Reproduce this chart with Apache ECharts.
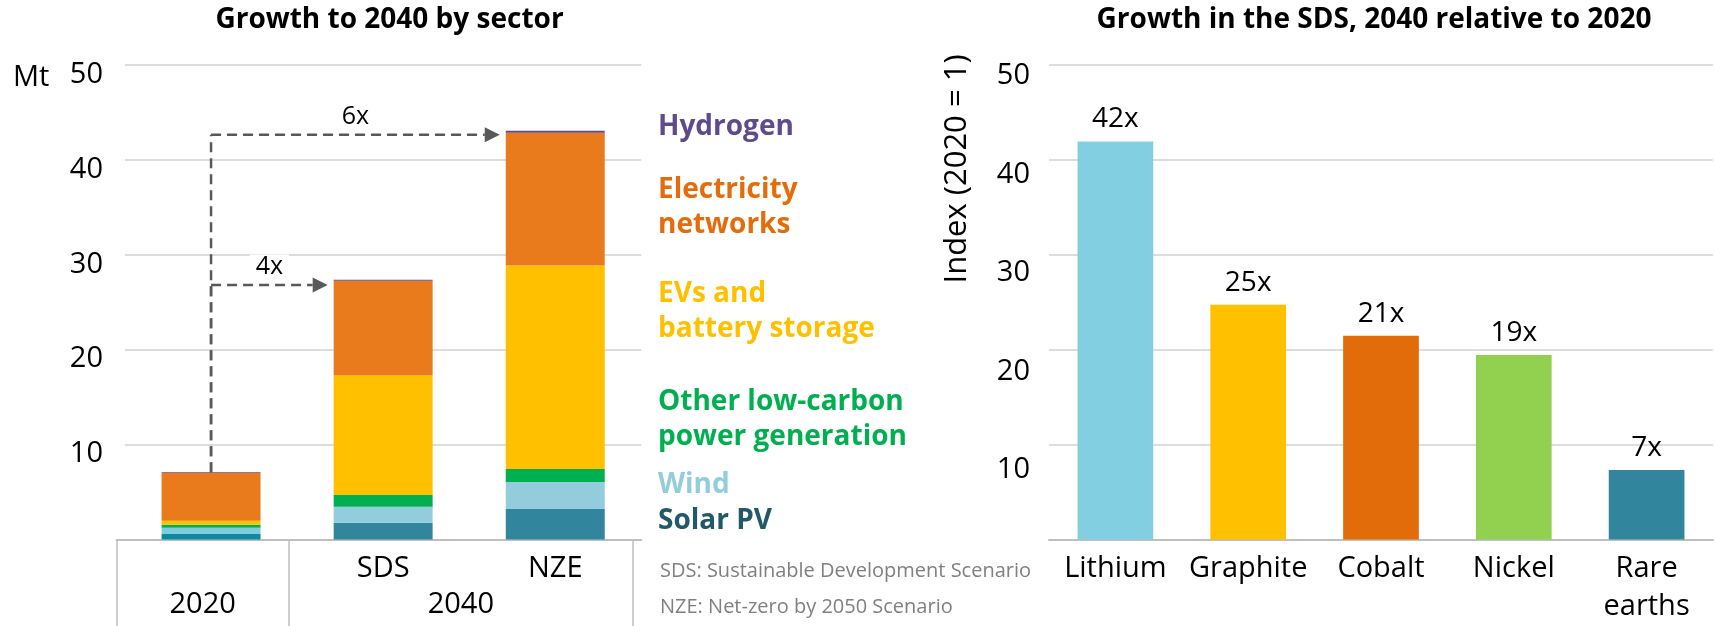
<!DOCTYPE html>
<html>
<head>
<meta charset="utf-8">
<script src="https://cdn.jsdelivr.net/npm/echarts@6/dist/echarts.min.js"></script>
<style>
  html, body { margin: 0; padding: 0; background: #fff; }
  #chart { width: 1715px; height: 626px; }
</style>
</head>
<body>
<div id="chart"></div>
<script>
// ---------- Left panel: growth to 2040 by sector (Mt) ----------
const sectorCategories = ['2020', 'SDS', 'NZE'];
const sectorRowLabels = ['', 'SDS', 'NZE'];
const yearGroups = ['2020', '2040'];
const yearGroupCenters = [0.5, 2];
const yearGroupEdges = [0, 1, 3];

const solarPV = [0.58, 1.77, 3.22];
const wind = [0.66, 1.69, 2.84];
const otherLowCarbon = [0.32, 1.23, 1.37];
const evsBattery = [0.42, 12.58, 21.44];
const electricityNetworks = [5.03, 9.99, 14.0];
const hydrogen = [0.08, 0.1, 0.2];

const arrowTargets = [1, 2];
const arrowLevels = [26.83, 42.65];
const arrowLabels = ['4x', '6x'];

// ---------- Right panel: growth in the SDS, 2040 relative to 2020 ----------
const minerals = ['Lithium', 'Graphite', 'Cobalt', 'Nickel', 'Rare earths'];
const growthIndex = [41.94, 24.73, 21.46, 19.45, 7.33];
const growthLabels = ['42x', '25x', '21x', '19x', '7x'];

const yTicks = [10, 20, 30, 40, 50];

// ---------- styling ----------
const FONT = 'Open Sans';
const GRID_TOP = 65;
const GRID_H = 474.5;
const BAR_RATIO = 0.575;
const sectorColors = {
  solar: '#31859C', wind: '#93CDDD', other: '#00B050',
  evs: '#FFC000', elec: '#E97B1C', hydrogen: '#5F4B8B'
};
const colors2020 = { solar: '#0B8AA0', wind: '#80CCDF' };
const mineralColors = ['#83CFE2', '#FFC000', '#E36C0A', '#92D050', '#31859C'];

const chart = echarts.init(document.getElementById('chart'), null, { renderer: 'canvas' });

function stackSeries(name, values, color, override) {
  return {
    name: name, type: 'bar', stack: 'total', xAxisIndex: 0, yAxisIndex: 0,
    barWidth: (BAR_RATIO * 100) + '%',
    data: values.map((v, i) => (i === 0 && override) ? { value: v, itemStyle: { color: override } } : v),
    itemStyle: { color: color },
    emphasis: { disabled: true },
    silent: true
  };
}

const start2020 = solarPV[0] + wind[0] + otherLowCarbon[0] + evsBattery[0] + electricityNetworks[0] + hydrogen[0];
const arrowData = arrowTargets.map((t, k) => [0, t, arrowLevels[k], start2020]);

const dashStyle = { stroke: '#595959', lineWidth: 2.5, lineDash: [10, 6], fill: null };

function textEl(text, x, y, size, color, opts) {
  opts = opts || {};
  return {
    type: 'text', x: x, y: y, rotation: opts.rotation || 0, silent: true,
    style: {
      text: text, fill: color,
      fontSize: size, fontFamily: FONT, fontWeight: opts.bold ? 'bold' : 'normal',
      align: opts.align || 'left', textAlign: opts.align || 'left',
      verticalAlign: 'middle', textVerticalAlign: 'middle',
      lineHeight: opts.lineHeight || Math.round(size * 1.25)
    }
  };
}

const labelAxisStyle = { fontSize: 29, fontFamily: FONT, color: '#000' };

const option = {
  animation: false,
  backgroundColor: '#ffffff',
  textStyle: { fontFamily: FONT },
  grid: [
    { left: 125, top: GRID_TOP, width: 516.3, height: GRID_H },
    { left: 116.6, top: GRID_TOP, width: 516.3, height: GRID_H },
    { left: 1049, top: GRID_TOP, width: 664, height: GRID_H }
  ],
  xAxis: [
    {
      gridIndex: 0, type: 'category', data: sectorCategories,
      axisLine: { show: true, lineStyle: { color: '#BFBFBF', width: 2 } },
      axisTick: { show: false },
      axisLabel: Object.assign({
        interval: 0, margin: 10.5, lineHeight: 38,
        formatter: (v, i) => sectorRowLabels[i]
      }, labelAxisStyle)
    },
    {
      gridIndex: 1, type: 'value', min: 0, max: 3,
      axisLine: { show: true, lineStyle: { color: '#BFBFBF', width: 2 } },
      splitLine: { show: false },
      axisTick: { show: true, customValues: yearGroupEdges, length: 87, inside: false,
                  lineStyle: { color: '#BFBFBF', width: 1.5 } },
      axisLabel: Object.assign({
        customValues: yearGroupCenters, margin: 46.5, lineHeight: 38,
        formatter: (v) => { const k = yearGroupCenters.indexOf(v); return k >= 0 ? yearGroups[k] : ''; }
      }, labelAxisStyle)
    },
    {
      gridIndex: 2, type: 'category', data: minerals,
      axisLine: { show: true, lineStyle: { color: '#BFBFBF', width: 2 } },
      axisTick: { show: false },
      axisLabel: Object.assign({
        interval: 0, margin: 10.5, lineHeight: 38,
        formatter: (v) => v.replace(' ', '\n')
      }, labelAxisStyle)
    }
  ],
  yAxis: [
    {
      gridIndex: 0, type: 'value', min: 0, max: 50, interval: 10,
      axisLine: { show: false }, axisTick: { show: false },
      splitLine: { show: true, lineStyle: { color: '#DDDDDD', width: 2 } },
      axisLabel: { show: false }
    },
    { gridIndex: 1, type: 'value', min: 0, max: 1, show: false },
    {
      gridIndex: 2, type: 'value', min: 0, max: 50, interval: 10, position: 'left',
      axisLine: { show: false }, axisTick: { show: false },
      splitLine: { show: true, lineStyle: { color: '#DDDDDD', width: 2 } },
      axisLabel: { show: false }
    },
    {
      // tick-label axis for the right panel (labels sit a little below their gridlines, as in the source)
      gridIndex: 2, type: 'value', min: 2.94, max: 51.12, position: 'left',
      axisLine: { show: false }, axisTick: { show: false }, splitLine: { show: false },
      axisLabel: Object.assign({ customValues: yTicks, margin: 19, formatter: (v) => String(v) }, labelAxisStyle)
    },
    {
      // tick-label axis for the left panel
      gridIndex: 0, type: 'value', min: 1.0, max: 51.0, position: 'left',
      axisLine: { show: false }, axisTick: { show: false }, splitLine: { show: false },
      axisLabel: Object.assign({ customValues: yTicks, margin: 22, formatter: (v) => String(v) }, labelAxisStyle)
    }
  ],
  series: [
    stackSeries('Solar PV', solarPV, sectorColors.solar, colors2020.solar),
    stackSeries('Wind', wind, sectorColors.wind, colors2020.wind),
    stackSeries('Other low-carbon power generation', otherLowCarbon, sectorColors.other),
    stackSeries('EVs and battery storage', evsBattery, sectorColors.evs),
    stackSeries('Electricity networks', electricityNetworks, sectorColors.elec),
    stackSeries('Hydrogen', hydrogen, sectorColors.hydrogen),
    {
      type: 'custom', xAxisIndex: 0, yAxisIndex: 0, z: 5, clip: false, silent: true,
      encode: { x: 0, y: 2 },
      data: arrowData,
      renderItem: function (params, api) {
        const i = params.dataIndex;
        const from = api.value(0), to = api.value(1), level = api.value(2), start = api.value(3);
        const p0 = api.coord([from, start]);
        const p1 = api.coord([from, level]);
        const pT = api.coord([to, level]);
        const band = api.size([1, 0])[0];
        const tipX = pT[0] - band * BAR_RATIO / 2 - 6;
        const head = 15;
        return {
          type: 'group',
          children: [
            { type: 'line', shape: { x1: p0[0], y1: p0[1], x2: p1[0], y2: p1[1] }, style: dashStyle },
            { type: 'line', shape: { x1: p1[0], y1: p1[1], x2: tipX - head, y2: p1[1] }, style: dashStyle },
            { type: 'polygon', shape: { points: [[tipX - head, p1[1] - 7.5], [tipX, p1[1]], [tipX - head, p1[1] + 7.5]] },
              style: { fill: '#595959' } },
            { type: 'text', x: (p1[0] + tipX) / 2, y: p1[1] - 18,
              style: { text: arrowLabels[i], fill: '#000', fontSize: 25, fontFamily: FONT,
                       align: 'center', verticalAlign: 'middle', backgroundColor: '#ffffff', padding: [0, 6] } }
          ]
        };
      }
    },
    {
      name: 'Growth index', type: 'bar', xAxisIndex: 2, yAxisIndex: 2,
      barWidth: '57%',
      data: growthIndex.map((v, i) => ({ value: v, itemStyle: { color: mineralColors[i] } })),
      label: {
        show: true, position: 'top', distance: 8, fontSize: 28, fontFamily: FONT, color: '#000',
        formatter: (p) => growthLabels[p.dataIndex]
      },
      emphasis: { disabled: true },
      silent: true
    }
  ],
  graphic: [
    textEl('Growth to 2040 by sector', 389.5, 20, 28, '#000', { bold: true, align: 'center' }),
    textEl('Growth in the SDS, 2040 relative to 2020', 1374, 20, 28, '#000', { bold: true, align: 'center' }),
    textEl('Mt', 13, 78, 29, '#000'),
    textEl('Index (2020 = 1)', 957, 169, 31, '#000', { align: 'center', rotation: Math.PI / 2 }),
    textEl('Hydrogen', 658, 127, 28, '#5F4B8B', { bold: true, lineHeight: 35 }),
    textEl('Electricity\nnetworks', 658, 207.5, 28, '#E46C0A', { bold: true, lineHeight: 35 }),
    textEl('EVs and\nbattery storage', 658, 311.75, 28, '#FFC000', { bold: true, lineHeight: 35 }),
    textEl('Other low-carbon\npower generation', 658, 419.75, 28, '#00B050', { bold: true, lineHeight: 35 }),
    textEl('Wind', 658, 485, 28, '#93CDDD', { bold: true, lineHeight: 35 }),
    textEl('Solar PV', 658, 521.5, 28, '#215968', { bold: true, lineHeight: 35 }),
    textEl('SDS: Sustainable Development Scenario', 660, 571, 20, '#808080'),
    textEl('NZE: Net-zero by 2050 Scenario', 660, 607, 20, '#808080')
  ]
};

chart.setOption(option);
</script>
</body>
</html>
